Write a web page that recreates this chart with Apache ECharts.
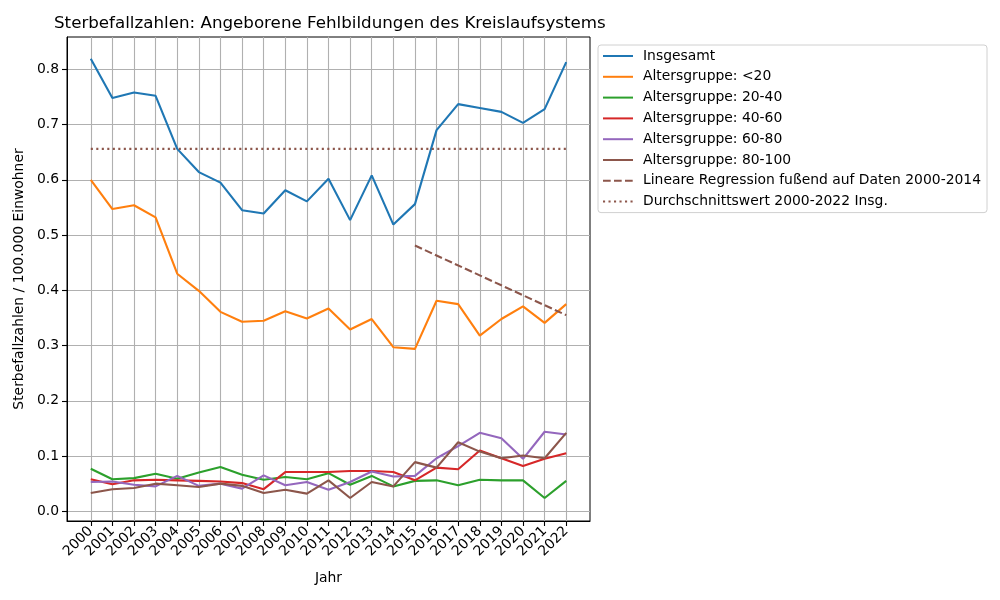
<!DOCTYPE html>
<html>
<head>
<meta charset="utf-8">
<script src="https://cdn.jsdelivr.net/npm/echarts@6/dist/echarts.min.js"></script>
<style>html,body{margin:0;padding:0;background:#fff}#c{width:1000px;height:600px}</style>
</head>
<body>
<div id="c"></div>
<script>
const years = [2000,2001,2002,2003,2004,2005,2006,2007,2008,2009,2010,2011,2012,2013,2014,2015,2016,2017,2018,2019,2020,2021,2022];
const insgesamt = [0.819,0.748,0.758,0.752,0.656,0.614,0.595,0.545,0.539,0.581,0.561,0.602,0.527,0.608,0.519,0.556,0.690,0.737,0.730,0.723,0.703,0.728,0.813];
const under20 = [0.600,0.547,0.554,0.532,0.430,0.399,0.361,0.343,0.345,0.362,0.349,0.367,0.329,0.348,0.297,0.294,0.381,0.375,0.318,0.348,0.371,0.341,0.375];
const age20_40 = [0.077,0.058,0.060,0.068,0.059,0.070,0.080,0.066,0.057,0.062,0.058,0.069,0.048,0.064,0.045,0.055,0.056,0.047,0.057,0.056,0.056,0.024,0.055];
const age40_60 = [0.058,0.049,0.056,0.057,0.056,0.055,0.054,0.051,0.040,0.071,0.071,0.071,0.073,0.073,0.071,0.056,0.079,0.076,0.110,0.096,0.082,0.095,0.105];
const age60_80 = [0.053,0.054,0.048,0.045,0.064,0.046,0.050,0.041,0.065,0.047,0.053,0.039,0.053,0.072,0.063,0.064,0.096,0.118,0.142,0.132,0.095,0.144,0.139];
const age80_100 = [0.033,0.040,0.042,0.050,0.047,0.044,0.050,0.046,0.033,0.039,0.032,0.056,0.024,0.053,0.045,0.089,0.079,0.125,0.108,0.096,0.101,0.096,0.142];
const regressionYears = [2015, 2022];
const regressionValues = [0.481, 0.355];
const averageYears = [2000, 2022];
const averageValues = [0.656, 0.656];
const yTicks = [0,0.1,0.2,0.3,0.4,0.5,0.6,0.7,0.8];

const FONT = 'DejaVu Sans';
const pairs = (xs, ys) => xs.map((x, i) => [x, ys[i]]);
const lw = 2.1;
function mk(name, xs, ys, color, type) {
  return {
    name, type: 'line', data: pairs(xs, ys), symbol: 'none', silent: true,
    lineStyle: { color, width: lw, type: type || 'solid', cap: 'butt' },
    itemStyle: { color }, animation: false, z: 3
  };
}
const chart = echarts.init(document.getElementById('c'), null, { renderer: 'canvas' });
chart.setOption({
  animation: false,
  backgroundColor: '#ffffff',
  textStyle: { fontFamily: FONT },
  title: {
    text: 'Sterbefallzahlen: Angeborene Fehlbildungen des Kreislaufsystems',
    left: 49, top: 10,
    textStyle: { fontFamily: FONT, fontSize: 16.7, fontWeight: 'normal', color: '#000' }
  },
  grid: { left: 67, top: 37, right: 410, bottom: 79, show: true, borderColor: '#000', borderWidth: 1, backgroundColor: 'transparent', containLabel: false },
  legend: {
    orient: 'vertical', left: 598, top: 45,
    itemWidth: 30, itemHeight: 14, itemGap: 6.8,
    padding: [4, 6, 4, 4],
    backgroundColor: '#fff', borderColor: '#d0d0d0', borderWidth: 1, borderRadius: 3,
    itemStyle: { opacity: 0 },
    textStyle: { fontFamily: FONT, fontSize: 13.9, color: '#000', padding: [0, 0, 0, 5] },
    data: ['Insgesamt','Altersgruppe: <20','Altersgruppe: 20-40','Altersgruppe: 40-60','Altersgruppe: 60-80','Altersgruppe: 80-100','Lineare Regression fußend auf Daten 2000-2014','Durchschnittswert 2000-2022 Insg.']
  },
  xAxis: {
    type: 'value', min: 1998.9, max: 2023.1,
    name: 'Jahr', nameLocation: 'middle', nameGap: 50,
    nameTextStyle: { fontFamily: FONT, fontSize: 13.9, color: '#000' },
    axisLine: { show: true, onZero: false, lineStyle: { color: '#000', width: 1 } },
    axisTick: { show: true, length: 5, lineStyle: { color: '#000', width: 1.1 }, customValues: years },
    axisLabel: { customValues: years, rotate: 45, fontFamily: FONT, fontSize: 13.9, color: '#000', margin: 8, formatter: v => String(v), hideOverlap: false },
    splitLine: { show: true, lineStyle: { color: '#b0b0b0', width: 1.1 } }
  },
  yAxis: {
    type: 'value', min: -0.0176, max: 0.8585,
    name: 'Sterbefallzahlen / 100.000 Einwohner', nameLocation: 'middle', nameGap: 35,
    nameTextStyle: { fontFamily: FONT, fontSize: 13.9, color: '#000' },
    axisLine: { show: true, onZero: false, lineStyle: { color: '#000', width: 1 } },
    axisTick: { show: true, length: 5, lineStyle: { color: '#000', width: 1.1 }, customValues: yTicks },
    axisLabel: { customValues: yTicks, fontFamily: FONT, fontSize: 13.9, color: '#000', margin: 8, formatter: v => v.toFixed(1) },
    splitLine: { show: true, lineStyle: { color: '#b0b0b0', width: 1.1 } }
  },
  series: [
    mk('Insgesamt', years, insgesamt, '#1f77b4'),
    mk('Altersgruppe: <20', years, under20, '#ff7f0e'),
    mk('Altersgruppe: 20-40', years, age20_40, '#2ca02c'),
    mk('Altersgruppe: 40-60', years, age40_60, '#d62728'),
    mk('Altersgruppe: 60-80', years, age60_80, '#9467bd'),
    mk('Altersgruppe: 80-100', years, age80_100, '#8c564b'),
    mk('Lineare Regression fußend auf Daten 2000-2014', regressionYears, regressionValues, '#8c564b', [7.7, 3.3]),
    mk('Durchschnittswert 2000-2022 Insg.', averageYears, averageValues, '#8c564b', [2.1, 3.4])
  ]
});
</script>
</body>
</html>
